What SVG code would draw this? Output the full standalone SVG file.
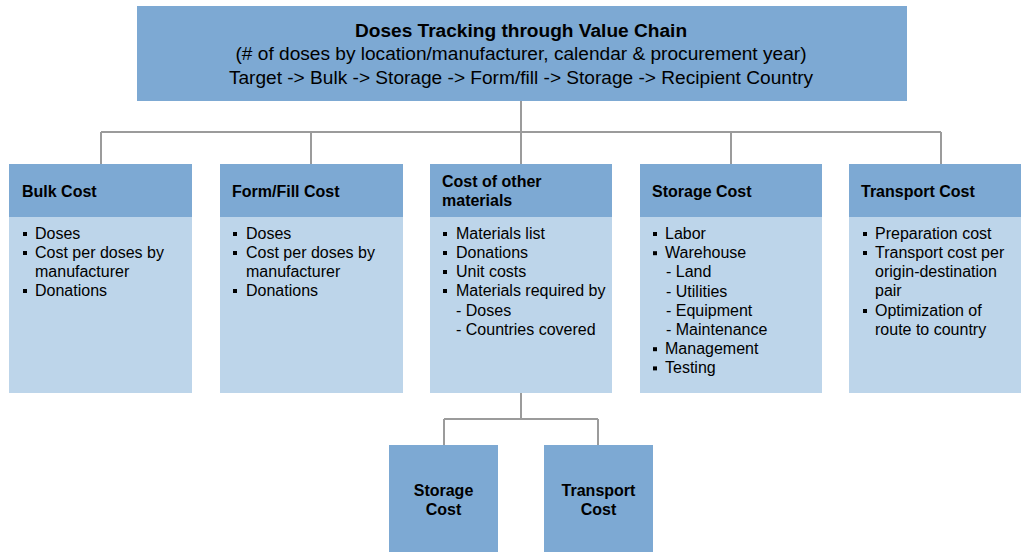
<svg xmlns="http://www.w3.org/2000/svg" width="1021" height="552" viewBox="0 0 1021 552">
<style>
.hdr{fill:#7DA9D3}
.body{fill:#BDD5EA}
.t{font-family:"Liberation Sans",Arial,sans-serif;font-size:16px;fill:#000}
.b{font-weight:bold}
.top{font-size:19.1px}
.c{text-anchor:middle}
.conn{stroke:#9B9B9B;stroke-width:2;fill:none}
.blt{fill:#000}
</style>
<defs>
<rect id="sq" width="4" height="4" class="blt"/>
</defs>
<rect width="1021" height="552" fill="#fff"/>
<g id="connectors">
<path class="conn" d="M521,101 V164 M101,132 H941 M101,132 V164 M311,132 V164 M731,132 V164 M941,132 V164"/>
<path class="conn" d="M521,393 V419 M444,419 H598 M444,419 V445 M598,419 V445"/>
</g>
<g id="top">
<rect class="hdr" x="137" y="6" width="770" height="95"/>
<text class="t top b c" x="521" y="37">Doses Tracking through Value Chain</text>
<text class="t top c" x="521" y="60">(# of doses by location/manufacturer, calendar &amp; procurement year)</text>
<text class="t top c" x="521" y="84">Target -&gt; Bulk -&gt; Storage -&gt; Form/fill -&gt; Storage -&gt; Recipient Country</text>
</g>
<g id="bulk">
<rect class="body" x="9" y="164" width="183" height="229"/>
<rect class="hdr" x="9" y="164" width="183" height="53"/>
<text class="t b" x="22" y="197">Bulk Cost</text>
<use href="#sq" x="23" y="232"/><text class="t" x="35" y="239">Doses</text>
<use href="#sq" x="23" y="251"/><text class="t" x="35" y="258">Cost per doses by</text>
<text class="t" x="35" y="277">manufacturer</text>
<use href="#sq" x="23" y="289"/><text class="t" x="35" y="296">Donations</text>
</g>
<g id="formfill">
<rect class="body" x="220" y="164" width="183" height="229"/>
<rect class="hdr" x="220" y="164" width="183" height="53"/>
<text class="t b" x="232" y="197">Form/Fill Cost</text>
<use href="#sq" x="233" y="232"/><text class="t" x="246" y="239">Doses</text>
<use href="#sq" x="233" y="251"/><text class="t" x="246" y="258">Cost per doses by</text>
<text class="t" x="246" y="277">manufacturer</text>
<use href="#sq" x="233" y="289"/><text class="t" x="246" y="296">Donations</text>
</g>
<g id="materials">
<rect class="body" x="430" y="164" width="182" height="229"/>
<rect class="hdr" x="430" y="164" width="182" height="53"/>
<text class="t b" x="442" y="187">Cost of other</text>
<text class="t b" x="442" y="206">materials</text>
<use href="#sq" x="443" y="232"/><text class="t" x="456" y="239">Materials list</text>
<use href="#sq" x="443" y="251"/><text class="t" x="456" y="258">Donations</text>
<use href="#sq" x="443" y="270"/><text class="t" x="456" y="277">Unit costs</text>
<use href="#sq" x="443" y="289"/><text class="t" x="456" y="296">Materials required by</text>
<text class="t" x="456" y="315.5">- Doses</text>
<text class="t" x="456" y="334.5">- Countries covered</text>
</g>
<g id="storage">
<rect class="body" x="640" y="164" width="182" height="229"/>
<rect class="hdr" x="640" y="164" width="182" height="53"/>
<text class="t b" x="652" y="197">Storage Cost</text>
<use href="#sq" x="653" y="232"/><text class="t" x="665" y="239">Labor</text>
<use href="#sq" x="653" y="251.2"/><text class="t" x="665" y="258.2">Warehouse</text>
<text class="t" x="666" y="277.4">- Land</text>
<text class="t" x="666" y="296.6">- Utilities</text>
<text class="t" x="666" y="315.8">- Equipment</text>
<text class="t" x="666" y="335">- Maintenance</text>
<use href="#sq" x="653" y="347.2"/><text class="t" x="665" y="354.2">Management</text>
<use href="#sq" x="653" y="366.4"/><text class="t" x="665" y="373.4">Testing</text>
</g>
<g id="transport">
<rect class="body" x="849" y="164" width="172" height="229"/>
<rect class="hdr" x="849" y="164" width="172" height="53"/>
<text class="t b" x="861" y="197">Transport Cost</text>
<use href="#sq" x="863" y="232"/><text class="t" x="875" y="239">Preparation cost</text>
<use href="#sq" x="863" y="251"/><text class="t" x="875" y="258">Transport cost per</text>
<text class="t" x="875" y="277">origin-destination</text>
<text class="t" x="875" y="296">pair</text>
<use href="#sq" x="863" y="309"/><text class="t" x="875" y="316">Optimization of</text>
<text class="t" x="875" y="335">route to country</text>
</g>
<g id="sub-storage">
<rect class="hdr" x="389" y="445" width="109" height="107"/>
<text class="t b c" x="443.5" y="496">Storage</text>
<text class="t b c" x="443.5" y="515">Cost</text>
</g>
<g id="sub-transport">
<rect class="hdr" x="544" y="445" width="109" height="107"/>
<text class="t b c" x="598.5" y="496">Transport</text>
<text class="t b c" x="598.5" y="515">Cost</text>
</g>
</svg>
